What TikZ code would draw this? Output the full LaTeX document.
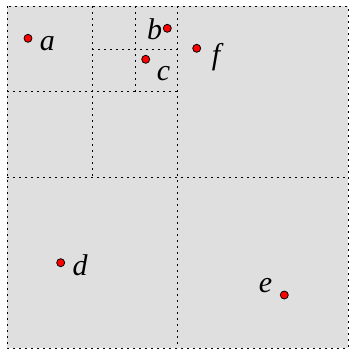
\documentclass[tikz,border=0pt]{standalone}
\usepackage{fontspec}
\setmainfont{Liberation Serif}
\begin{document}
\begin{tikzpicture}[x=1pt,y=-1pt,
  grid/.style={black, line width=0.9pt, dash pattern=on 1.6pt off 4.4pt},
  pt/.style={circle, draw=black, fill=red, line width=0.8pt, inner sep=0pt, minimum size=8pt},
  lab/.style={inner sep=0pt, anchor=base, font=\fontsize{30}{32}\selectfont\itshape}]
\useasboundingbox (0,0) rectangle (349,349);
\fill[gray!25] (7,6) rectangle (348,348);
% subdivisions
\draw[grid] (177.5,6) -- (177.5,348);
\draw[grid] (7,177) -- (348,177);
\draw[grid] (92,6) -- (92,177);
\draw[grid] (7,91.5) -- (177.5,91.5);
\draw[grid] (135,6) -- (135,91.5);
\draw[grid] (92,49) -- (177.5,49);
\draw[grid] (7,6) rectangle (348,348);
% points
\node[pt] (a) at (28,38.3) {};
\node[pt] (b) at (167.3,28.3) {};
\node[pt] (c) at (145.7,59.3) {};
\node[pt] (f) at (196.7,48.3) {};
\node[pt] (d) at (60.7,262.7) {};
\node[pt] (e) at (284.3,295) {};
\node[lab] (la) at (47.5,50) {a};
\node[lab] (lb) at (154.5,39) {b};
\node[lab] (lc) at (163.5,80) {c};
\node[lab] (lf) at (216,64) {f};
\node[lab] (ld) at (80,275) {d};
\node[lab] (le) at (265.5,292) {e};
\end{tikzpicture}
\end{document}
